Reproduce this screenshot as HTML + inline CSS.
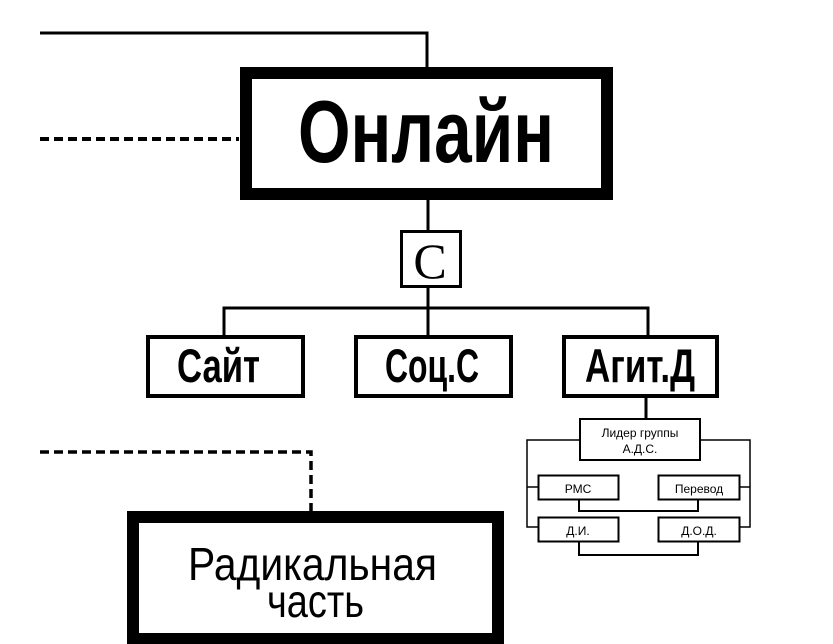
<!DOCTYPE html>
<html><head><meta charset="utf-8"><style>html,body{margin:0;padding:0;background:#fff}svg{display:block}</style></head>
<body>
<svg width="833" height="644" viewBox="0 0 833 644" xmlns="http://www.w3.org/2000/svg" font-family="Liberation Sans, DejaVu Sans, sans-serif">
<g fill="none" stroke="#000">
<polyline points="40,33 427,33 427,67" stroke-width="3"/>
<line x1="40" y1="139" x2="239" y2="139" stroke-width="4" stroke-dasharray="9,5"/>
<rect x="246" y="73" width="361" height="121" stroke-width="12"/>
<line x1="428" y1="200" x2="428" y2="230" stroke-width="3"/>
<rect x="401.5" y="231.5" width="59" height="55" stroke-width="3"/>
<line x1="428" y1="288" x2="428" y2="336" stroke-width="3"/>
<polyline points="224,336 224,308 648,308 648,336" stroke-width="3"/>
<rect x="148" y="337" width="155" height="59" stroke-width="4"/>
<rect x="356" y="337" width="155" height="59" stroke-width="4"/>
<rect x="564" y="337" width="153" height="59" stroke-width="4"/>
<line x1="646" y1="398" x2="646" y2="418" stroke-width="3"/>
<rect x="580" y="419" width="120" height="41" stroke-width="2"/>
<rect x="538.5" y="475.5" width="80" height="24" stroke-width="2"/>
<rect x="658.5" y="475.5" width="81" height="24" stroke-width="2"/>
<rect x="538.5" y="517.5" width="80" height="24" stroke-width="2"/>
<rect x="658.5" y="517.5" width="81" height="24" stroke-width="2"/>
<polyline points="580,440 527,440 527,527 538,527" stroke-width="1.5"/>
<line x1="527" y1="487" x2="538" y2="487" stroke-width="1.5"/>
<polyline points="700,440 750,440 750,527 740,527" stroke-width="1.5"/>
<line x1="750" y1="487" x2="740" y2="487" stroke-width="1.5"/>
<polyline points="579,500 579,511 698,511 698,500" stroke-width="2"/>
<polyline points="579,542 579,555 698,555 698,542" stroke-width="2"/>
<polyline points="40,452 311,452 311,511" stroke-width="3.5" stroke-dasharray="9,5"/>
<rect x="133" y="517" width="365" height="122" stroke-width="12"/>
</g>
<g fill="#000">
<text x="298" y="162" font-size="88" font-weight="bold" textLength="256" lengthAdjust="spacingAndGlyphs">Онлайн</text>
<text x="430" y="278" font-size="50" font-family="Liberation Serif, serif" text-anchor="middle">C</text>
<text x="177" y="382" font-size="47" font-weight="bold" textLength="83" lengthAdjust="spacingAndGlyphs">Сайт</text>
<text x="385" y="382" font-size="47" font-weight="bold" textLength="94" lengthAdjust="spacingAndGlyphs">Соц.С</text>
<text x="585" y="382" font-size="47" font-weight="bold" textLength="110" lengthAdjust="spacingAndGlyphs">Агит.Д</text>
<text x="640" y="437" font-size="12" text-anchor="middle">Лидер группы</text>
<text x="640" y="453" font-size="12" text-anchor="middle">А.Д.С.</text>
<text x="578" y="493" font-size="12" text-anchor="middle">РМС</text>
<text x="699" y="493" font-size="12" text-anchor="middle">Перевод</text>
<text x="578" y="535" font-size="12" text-anchor="middle">Д.И.</text>
<text x="699" y="535" font-size="12" text-anchor="middle">Д.О.Д.</text>
<text x="188" y="580" font-size="46" textLength="249" lengthAdjust="spacingAndGlyphs">Радикальная</text>
<text x="267" y="617" font-size="46" textLength="97" lengthAdjust="spacingAndGlyphs">часть</text>
</g>
</svg>
</body></html>
